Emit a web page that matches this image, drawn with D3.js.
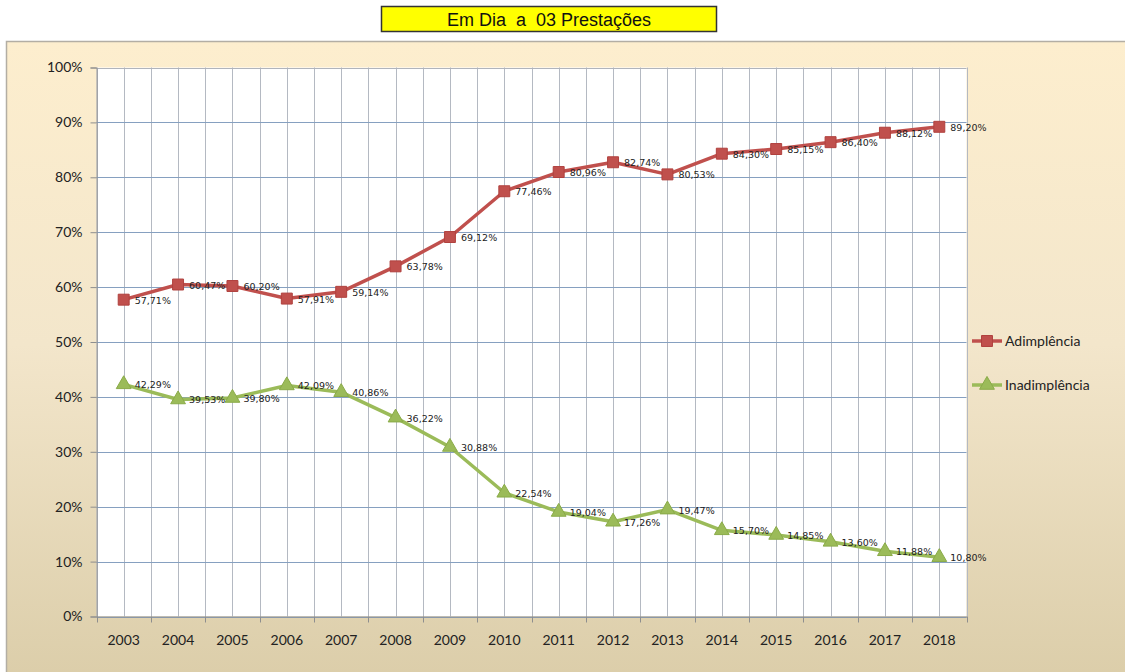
<!DOCTYPE html>
<html>
<head>
<meta charset="utf-8">
<script src="https://cdn.jsdelivr.net/npm/d3@7"></script>
<style>
  body { margin: 0; background: #fff; }
  svg text { font-family: Lato, "Open Sans", sans-serif; }
</style>
</head>
<body>
<div id="chart"></div>
<script>
const WIDTH = 1125, HEIGHT = 672;

// data
const years = ["2003","2004","2005","2006","2007","2008","2009","2010","2011","2012","2013","2014","2015","2016","2017","2018"];
const adimplencia = [57.71, 60.47, 60.20, 57.91, 59.14, 63.78, 69.12, 77.46, 80.96, 82.74, 80.53, 84.30, 85.15, 86.40, 88.12, 89.20];
const inadimplencia = [42.29, 39.53, 39.80, 42.09, 40.86, 36.22, 30.88, 22.54, 19.04, 17.26, 19.47, 15.70, 14.85, 13.60, 11.88, 10.80];
const yTicks = [0, 10, 20, 30, 40, 50, 60, 70, 80, 90, 100];
const seriesNames = ["Adimplência", "Inadimplência"];

const PLOT = { left: 96.5, right: 966.5, top: 67.5, bottom: 616.5 };

const svg = d3.select("#chart").append("svg")
    .attr("width", WIDTH)
    .attr("height", HEIGHT);

// background gradient for the chart area
const defs = svg.append("defs");
const grad = defs.append("linearGradient")
    .attr("id", "bgGrad")
    .attr("x1", 0).attr("y1", 0).attr("x2", 0).attr("y2", 1);
grad.append("stop").attr("offset", "0%").attr("stop-color", "#fdeece");
grad.append("stop").attr("offset", "45%").attr("stop-color", "#f3e6cb");
grad.append("stop").attr("offset", "100%").attr("stop-color", "#d9cba6");

svg.append("rect")
    .attr("x", 6.5).attr("y", 41.5)
    .attr("width", WIDTH).attr("height", HEIGHT)
    .attr("fill", "url(#bgGrad)")
    .attr("stroke", "#b3aea4")
    .attr("stroke-width", 1.5);

// title box
svg.append("rect")
    .attr("x", 381.5).attr("y", 6.5)
    .attr("width", 335).attr("height", 25)
    .attr("fill", "#ffff00")
    .attr("stroke", "#333")
    .attr("stroke-width", 1.5);

svg.append("text")
    .attr("x", 549).attr("y", 26)
    .attr("text-anchor", "middle")
    .style("white-space", "pre")
    .style("font-family", "'Liberation Sans', Arial, sans-serif")
    .style("font-size", "18px")
    .attr("fill", "#111")
    .text("Em Dia  a  03 Prestações");

// scales
const x = d3.scaleBand()
    .domain(years)
    .range([PLOT.left, PLOT.right]);

const y = d3.scaleLinear()
    .domain([0, 100])
    .range([PLOT.bottom, PLOT.top]);

const cx = d => x(d) + x.bandwidth() / 2;

// plot area
svg.append("rect")
    .attr("x", PLOT.left).attr("y", PLOT.top)
    .attr("width", PLOT.right - PLOT.left)
    .attr("height", PLOT.bottom - PLOT.top)
    .attr("fill", "#fff");

// vertical gridlines (boundaries and centres)
const vLines = [];
years.forEach(d => { vLines.push(x(d)); vLines.push(cx(d)); });
vLines.push(PLOT.right);
svg.append("g").selectAll("line")
    .data(vLines)
    .join("line")
    .attr("x1", d => Math.round(d) + 0.5).attr("x2", d => Math.round(d) + 0.5)
    .attr("y1", PLOT.top).attr("y2", PLOT.bottom)
    .attr("stroke", "#b4b9c2")
    .attr("stroke-width", 1);

// horizontal gridlines
svg.append("g").selectAll("line")
    .data(yTicks)
    .join("line")
    .attr("x1", PLOT.left).attr("x2", PLOT.right)
    .attr("y1", d => Math.round(y(d)) + 0.5).attr("y2", d => Math.round(y(d)) + 0.5)
    .attr("stroke", d => d === 100 ? "#b0b4bc" : "#86a0c0")
    .attr("stroke-width", 1);

// y axis
const yAxis = svg.append("g")
    .attr("transform", `translate(${PLOT.left},0)`)
    .call(d3.axisLeft(y).tickValues(yTicks).tickFormat(d => d + "%").tickSize(6).tickPadding(8));
yAxis.select(".domain").attr("stroke", "#8e8e8e");
yAxis.selectAll(".tick line").attr("stroke", "#8e8e8e");
yAxis.selectAll("text")
    .style("font-size", "14px")
    .attr("fill", "#222");

// x axis
const xAxis = svg.append("g")
    .attr("transform", `translate(0,${PLOT.bottom})`)
    .call(d3.axisBottom(x).tickSize(0).tickPadding(19));
xAxis.select(".domain").attr("stroke", "#8e8e8e");
xAxis.selectAll("text")
    .style("font-size", "14px")
    .attr("fill", "#222");
svg.append("g").selectAll("line")
    .data(years.map(d => x(d)).concat([PLOT.right]))
    .join("line")
    .attr("x1", d => Math.round(d) + 0.5).attr("x2", d => Math.round(d) + 0.5)
    .attr("y1", PLOT.bottom).attr("y2", PLOT.bottom + 6)
    .attr("stroke", "#8e8e8e");

// series
const series = [
  { name: seriesNames[0], values: adimplencia, color: "#c0504d", fill: "#c0504d", stroke: "#b0413e", shape: d3.symbolSquare, size: 120 },
  { name: seriesNames[1], values: inadimplencia, color: "#9bbb59", fill: "#9bbb59", stroke: "#8aab48", shape: d3.symbolTriangle, size: 95 }
];

const line = d3.line()
    .x(d => cx(d.year))
    .y(d => y(d.value));

series.forEach(s => {
  const pts = years.map((yr, i) => ({ year: yr, value: s.values[i] }));
  const g = svg.append("g");

  g.append("path")
    .datum(pts)
    .attr("d", line)
    .attr("fill", "none")
    .attr("stroke", s.color)
    .attr("stroke-width", 3.5)
    .attr("stroke-linejoin", "round");

  g.selectAll("path.marker")
    .data(pts)
    .join("path")
    .attr("class", "marker")
    .attr("d", d3.symbol().type(s.shape).size(s.size))
    .attr("transform", d => `translate(${cx(d.year)},${y(d.value)})`)
    .attr("fill", s.fill)
    .attr("stroke", s.stroke)
    .attr("stroke-width", 1);

  g.selectAll("text")
    .data(pts)
    .join("text")
    .attr("x", d => cx(d.year) + 11)
    .attr("y", d => y(d.value) + 4)
    .style("font-family", "'DejaVu Sans', sans-serif")
    .style("font-size", "9.5px")
    .attr("fill", "#222")
    .text(d => d.value.toFixed(2).replace(".", ",") + "%");
});

// legend
const legend = svg.append("g");
series.forEach((s, i) => {
  const ly = 341 + i * 44;
  legend.append("line")
    .attr("x1", 972).attr("x2", 1002)
    .attr("y1", ly).attr("y2", ly)
    .attr("stroke", s.color)
    .attr("stroke-width", 3.5);
  legend.append("path")
    .attr("d", d3.symbol().type(s.shape).size(s.size)())
    .attr("transform", `translate(987,${ly})`)
    .attr("fill", s.fill)
    .attr("stroke", s.stroke);
  legend.append("text")
    .attr("x", 1005).attr("y", ly + 5)
    .style("font-size", "14px")
    .attr("fill", "#222")
    .text(s.name);
});
</script>
</body>
</html>
